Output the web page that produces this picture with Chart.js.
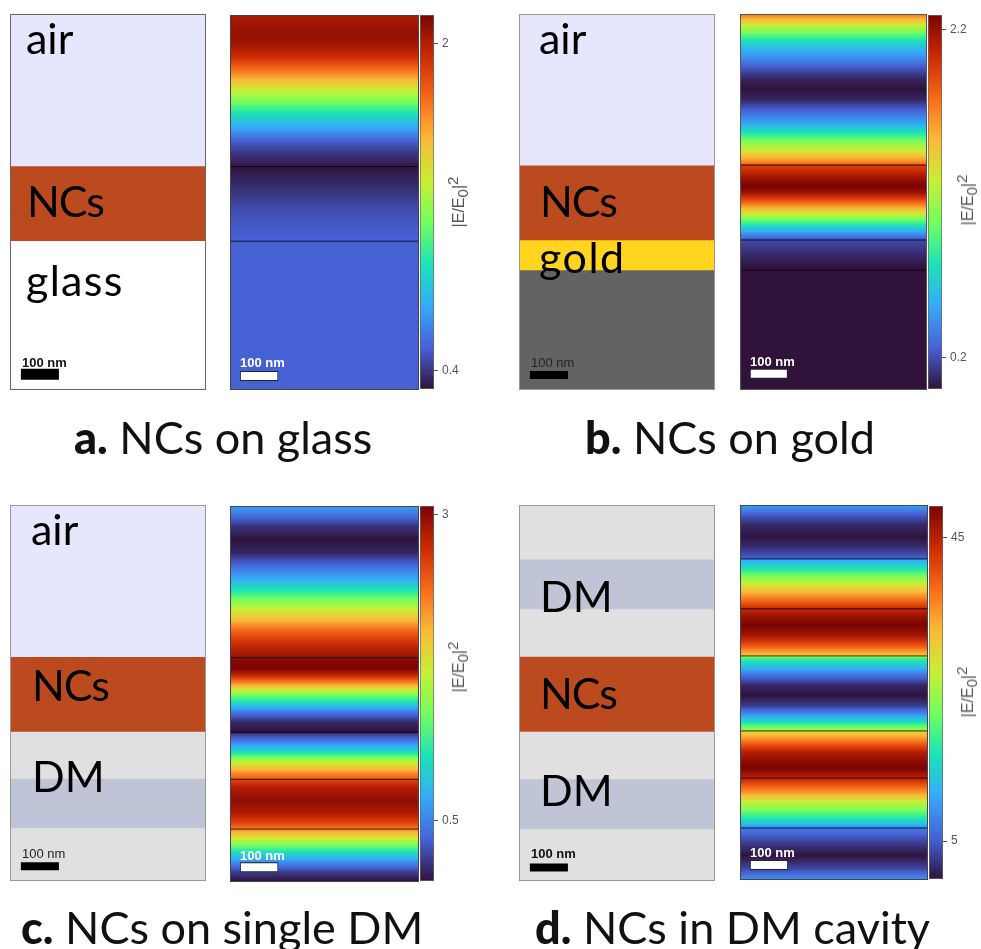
<!DOCTYPE html>
<html>
<head>
<meta charset="utf-8">
<title>Field intensity in NC layers</title>
<script src="https://cdn.jsdelivr.net/npm/chart.js@4"></script>
<style>
html, body { margin: 0; padding: 0; background: #fff; }
#page { position: relative; width: 981px; height: 949px; overflow: hidden; filter: blur(0.6px); }
canvas { position: absolute; }
.t { position: absolute; white-space: nowrap; line-height: 1; z-index: 2; }
.mat { font-family: Lato, sans-serif; font-size: 43px; color: #000; }
.cap { font-family: Lato, sans-serif; font-size: 45px; color: #111; }
.cap b { font-weight: 900; }
.bar { font-family: "Liberation Sans", Arial, sans-serif; font-size: 13px; font-weight: bold; }
.ylab { font-family: "Liberation Sans", Arial, sans-serif; font-size: 16px; color: #555; transform: translate(-50%, -50%) rotate(-90deg); }
.ylab sub, .ylab sup { font-size: 15px; line-height: 0; }
</style>
</head>
<body>
<div id="page">
  <div class="t mat" style="left:26px;top:16px">air</div>
  <div class="t mat" style="left:27px;top:179px;letter-spacing:-1.2px">NCs</div>
  <div class="t mat" style="left:26px;top:258px;letter-spacing:1.3px">glass</div>
  <div class="t bar" style="left:22px;top:356px;color:#111">100 nm</div>
  <div class="t bar" style="left:240px;top:356px;color:#fff">100 nm</div>
  <div class="t ylab" style="left:459px;top:202px">|E/E<sub>0</sub>|<sup>2</sup></div>
  <div class="t cap" style="left:74px;top:415px"><b>a.</b> NCs on glass</div>

  <div class="t mat" style="left:539px;top:16px">air</div>
  <div class="t mat" style="left:540px;top:179px;letter-spacing:-1.2px">NCs</div>
  <div class="t mat" style="left:539px;top:235px;letter-spacing:1.5px">gold</div>
  <div class="t bar" style="left:531px;top:356px;color:#222;font-weight:normal">100 nm</div>
  <div class="t bar" style="left:750px;top:355px;color:#fff">100 nm</div>
  <div class="t ylab" style="left:968px;top:200px">|E/E<sub>0</sub>|<sup>2</sup></div>
  <div class="t cap" style="left:585px;top:415px"><b>b.</b> NCs on gold</div>

  <div class="t mat" style="left:31px;top:507px">air</div>
  <div class="t mat" style="left:32px;top:663px;letter-spacing:-1.2px">NCs</div>
  <div class="t mat" style="left:32px;top:754px">DM</div>
  <div class="t bar" style="left:22px;top:847px;color:#222;font-weight:normal">100 nm</div>
  <div class="t bar" style="left:240px;top:849px;color:#fff">100 nm</div>
  <div class="t ylab" style="left:459px;top:667px">|E/E<sub>0</sub>|<sup>2</sup></div>
  <div class="t cap" style="left:21px;top:905px"><b>c.</b> NCs on single DM</div>

  <div class="t mat" style="left:540px;top:574px">DM</div>
  <div class="t mat" style="left:540px;top:671px;letter-spacing:-1.2px">NCs</div>
  <div class="t mat" style="left:540px;top:768px">DM</div>
  <div class="t bar" style="left:531px;top:847px;color:#111">100 nm</div>
  <div class="t bar" style="left:750px;top:846px;color:#fff">100 nm</div>
  <div class="t ylab" style="left:968px;top:692px">|E/E<sub>0</sub>|<sup>2</sup></div>
  <div class="t cap" style="left:535px;top:905px"><b>d.</b> NCs in DM cavity</div>
</div>
<script>
// layer thicknesses, nm
const layersA = [397, 197, 390];
const layersB = [395, 197, 79, 313];
const layersC = [397, 197, 124, 131, 137];
const layersD = [139, 131, 124, 197, 124, 131, 134];

const layerColorsA = ['#e6e6fd', '#bb4a1f', '#ffffff'];
const layerColorsB = ['#e6e6fd', '#bb4a1f', '#ffd51f', '#636363'];
const layerColorsC = ['#e6e6fd', '#bb4a1f', '#e0e0e0', '#bfc5d6', '#e0e0e0'];
const layerColorsD = ['#e0e0e0', '#bfc5d6', '#e0e0e0', '#bb4a1f', '#e0e0e0', '#bfc5d6', '#e0e0e0'];

// |E/E0|^2, depth in nm from the top
const depthA = [0, 47, 74, 110, 137, 171, 197, 224, 258, 295, 329, 363, 395, 397, 468, 521, 586, 592, 984];
const fieldA = [2.02, 2.07, 2.05, 1.92, 1.76, 1.52, 1.32, 1.15, 0.91, 0.71, 0.51, 0.40, 0.33, 0.31, 0.40, 0.47, 0.51, 0.51, 0.51];

const depthB = [0, 21, 47, 74, 105, 137, 171, 197, 224, 250, 281, 308, 329, 355, 376, 389,
  395, 408, 434, 452, 468, 487, 508, 531, 558, 573, 586, 592, 626, 665, 671, 984];
const fieldB = [1.72, 1.38, 1.01, 0.69, 0.47, 0.24, 0.06, 0.01, 0.08, 0.26, 0.47, 0.76, 1.01, 1.29, 1.56, 1.72,
  1.95, 2.02, 2.22, 2.29, 2.18, 1.90, 1.56, 1.15, 0.69, 0.47, 0.28, 0.19, 0.10, 0.01, 0.01, 0.01];

const depthC = [0, 24, 50, 84, 121, 147, 181, 216, 242, 268, 295, 321, 358, 397,
  400, 426, 444, 466, 489, 515, 542, 568, 594,
  597, 610, 629, 647, 663, 681, 700, 715,
  721, 742, 778, 805, 831, 847,
  857, 884, 910, 936, 963, 986];
const fieldC = [0.62, 0.41, 0.16, 0.01, 0.10, 0.32, 0.62, 0.99, 1.36, 1.69, 2.00, 2.37, 2.70, 2.95,
  3.01, 3.07, 2.76, 2.21, 1.54, 0.99, 0.44, 0.10, 0.01,
  0.16, 0.35, 0.68, 1.02, 1.45, 1.85, 2.21, 2.46,
  2.61, 2.86, 2.98, 2.86, 2.61, 2.34,
  2.09, 1.54, 1.02, 0.56, 0.19, 0.01];

const depthD = [0, 24, 50, 82, 110, 137,
  142, 163, 189, 216, 242, 268,
  271, 295, 313, 339, 366, 392,
  400, 418, 444, 471, 497, 523, 542, 568, 589,
  594, 621, 647, 673, 689, 713,
  726, 752, 778, 805, 834,
  847, 884, 918, 952, 980];
const fieldD = [9.8, 4.9, 1.5, 0.1, 2.0, 5.4,
  10.8, 16.2, 23.6, 30.5, 36.9, 43.3,
  44.3, 47.7, 49.2, 46.7, 40.3, 32.0,
  18.7, 13.8, 6.9, 1.5, 0.1, 2.5, 7.4, 16.2, 24.6,
  30.5, 38.4, 45.3, 48.2, 49.2, 45.3,
  41.8, 35.4, 27.1, 20.7, 13.3,
  7.4, 3.0, 0.1, 3.4, 8.9];

// colour bar ranges and ticks
const rangeA = [0.31, 2.14];
const rangeB = [0.01, 2.29];
const rangeC = [0.01, 3.07];
const rangeD = [0, 49.2];
const ticksA = [0.4, 2];
const ticksB = [0.2, 2.2];
const ticksC = [0.5, 3];
const ticksD = [5, 45];

const turbo = [[48,18,59],[70,98,215],[54,170,249],[26,228,182],[114,254,94],[200,239,52],[250,186,57],[246,107,25],[203,42,4],[122,4,3]];

function turboAt(p) {
    p = Math.min(1, Math.max(0, p)) * (turbo.length - 1);
    const i = Math.min(turbo.length - 2, Math.floor(p));
    const f = p - i;
    const c = turbo[i].map((v, k) => Math.round(v + (turbo[i + 1][k] - v) * f));
    return 'rgb(' + c.join(',') + ')';
}

const page = document.getElementById('page');

function addCanvas(left, top, w, h, outline) {
    const c = document.createElement('canvas');
    c.width = w;
    c.height = h;
    c.style.left = left + 'px';
    c.style.top = top + 'px';
    if (outline) c.style.outline = '1px solid ' + outline;
    page.appendChild(c);
    return c.getContext('2d');
}

function sum(arr) {
    return arr.reduce((a, b) => a + b, 0);
}

// the scale bar and the layer lines are thin line datasets on an nm x axis
function hline(y, x0, x1, color, width, order) {
    return {
        type: 'line', xAxisID: 'nm', order: order, data: [{x: x0, y: y}, {x: x1, y: y}],
        borderColor: color, borderWidth: width, pointRadius: 0, tension: 0
    };
}

function baseOptions(total, widthNm) {
    return {
        responsive: false,
        animation: false,
        events: [],
        layout: {padding: 0, autoPadding: false},
        plugins: {legend: {display: false}, tooltip: {enabled: false}, title: {display: false}},
        scales: {
            x: {type: 'category', display: false, labels: ['stack']},
            nm: {type: 'linear', display: false, min: 0, max: widthNm},
            y: {type: 'linear', display: false, reverse: true, min: 0, max: total}
        }
    };
}

function schematic(ctx, layers, colors, barY, barWidth) {
    const total = sum(layers);
    let d = 0;
    const sets = layers.map((t, i) => {
        const set = {
            type: 'bar', data: [[d, d + t]], backgroundColor: colors[i], order: 5, grouped: false,
            categoryPercentage: 1, barPercentage: 1, borderSkipped: false
        };
        d += t;
        return set;
    });
    sets.push(hline(barY, 26, 126, '#000', barWidth, 1));
    new Chart(ctx, {data: {labels: ['stack'], datasets: sets}, options: baseOptions(total, 510)});
}

function fieldMap(ctx, layers, depth, field, range, barY) {
    const total = sum(layers);
    const widthNm = 492;
    const sets = [{
        type: 'bar', data: [total], order: 5, grouped: false, categoryPercentage: 1, barPercentage: 1,
        backgroundColor: function (c) {
            const y = c.chart.scales.y;
            const y0 = y ? y.getPixelForValue(0) : NaN;
            const y1 = y ? y.getPixelForValue(total) : NaN;
            if (!isFinite(y0) || !isFinite(y1)) return '#000';
            const g = c.chart.ctx.createLinearGradient(0, y0, 0, y1);
            for (let i = 0; i < depth.length - 1; i++) {
                for (let s = 0; s <= 6; s++) {
                    const d = depth[i] + (depth[i + 1] - depth[i]) * s / 6;
                    const v = field[i] + (field[i + 1] - field[i]) * s / 6;
                    g.addColorStop(Math.min(1, d / total), turboAt((v - range[0]) / (range[1] - range[0])));
                }
            }
            return g;
        }
    }];
    let d = 0;
    for (let i = 0; i < layers.length - 1; i++) {
        d += layers[i];
        sets.push(hline(d, 0, widthNm, 'rgba(0,0,0,0.8)', 1, 3));
    }
    sets.push(hline(barY, 26, 122, '#ffffff', 8, 1));
    sets.push(hline(barY, 24, 124, '#223', 10, 2));
    new Chart(ctx, {data: {labels: ['stack'], datasets: sets}, options: baseOptions(total, widthNm)});
}

function colorBar(ctx, range, ticks, barW) {
    new Chart(ctx, {
        data: {
            labels: ['stack'],
            datasets: [{
                type: 'bar', data: [range], categoryPercentage: 1, barPercentage: 1, borderSkipped: false,
                borderColor: '#666', borderWidth: 1,
                backgroundColor: function (c) {
                    const y = c.chart.scales.y;
                    if (!y || !isFinite(y.top) || !isFinite(y.bottom)) return '#000';
                    const g = c.chart.ctx.createLinearGradient(0, y.bottom, 0, y.top);
                    turbo.forEach((col, i) => g.addColorStop(i / (turbo.length - 1), 'rgb(' + col.join(',') + ')'));
                    return g;
                }
            }]
        },
        options: {
            responsive: false,
            animation: false,
            events: [],
            layout: {padding: 0, autoPadding: false},
            plugins: {legend: {display: false}, tooltip: {enabled: false}},
            scales: {
                x: {type: 'category', display: false},
                y: {
                    type: 'linear', position: 'right', min: range[0], max: range[1],
                    border: {display: false},
                    grid: {drawOnChartArea: false, drawTicks: true, tickLength: 4, color: '#555'},
                    afterBuildTicks: axis => { axis.ticks = ticks.map(v => ({value: v})); },
                    afterFit: axis => {
                        axis.width = ctx.canvas.width - barW;
                        axis.paddingTop = 0;
                        axis.paddingBottom = 0;
                    },
                    ticks: {
                        autoSkip: false, padding: 4, color: '#555',
                        font: {family: '"Liberation Sans", Arial, sans-serif', size: 12},
                        callback: v => String(v)
                    }
                }
            }
        }
    });
}

schematic(addCanvas(11, 15, 194, 374, '#666'), layersA, layerColorsA, 945, 11);
fieldMap(addCanvas(231, 16, 187, 373, '#444'), layersA, depthA, fieldA, rangeA, 950);
colorBar(addCanvas(420, 15, 40, 374), rangeA, ticksA, 14);

schematic(addCanvas(520, 15, 194, 374, '#999'), layersB, layerColorsB, 947, 8);
fieldMap(addCanvas(741, 15, 185, 374, '#555'), layersB, depthB, fieldB, rangeB, 944);
colorBar(addCanvas(928, 15, 40, 374), rangeB, ticksB, 14);

schematic(addCanvas(11, 506, 194, 374, '#999'), layersC, layerColorsC, 950, 8);
fieldMap(addCanvas(231, 507, 187, 374, '#445'), layersC, depthC, fieldC, rangeC, 950);
colorBar(addCanvas(420, 506, 40, 375), rangeC, ticksC, 14);

schematic(addCanvas(520, 506, 194, 374, '#999'), layersD, layerColorsD, 947, 8);
fieldMap(addCanvas(741, 506, 186, 373, '#445'), layersD, depthD, fieldD, rangeD, 943);
colorBar(addCanvas(929, 506, 40, 373), rangeD, ticksD, 14);
</script>
</body>
</html>
